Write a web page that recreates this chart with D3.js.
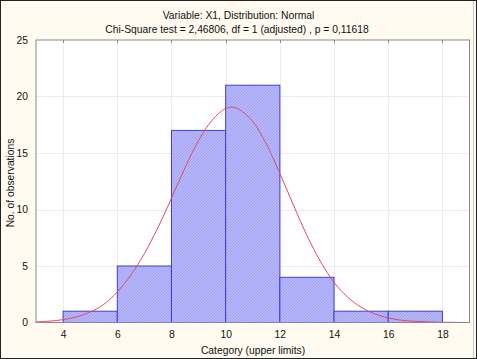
<!DOCTYPE html>
<html><head><meta charset="utf-8">
<script src="https://cdn.jsdelivr.net/npm/d3@7"></script>
<style>body{margin:0;background:#fffbf0;}svg{display:block;font-family:"Liberation Sans",Arial,sans-serif;}</style>
</head><body>
<script>
const binStarts = [4, 6, 8, 10, 12, 14, 16];
const binEnds = [6, 8, 10, 12, 14, 16, 18];
const counts = [1, 5, 17, 21, 4, 1, 1];
const curveX = [3,3.5,4,4.5,5,5.5,6,6.5,7,7.5,8,8.5,9,9.5,10,10.25,10.5,11,11.5,12,12.5,13,13.5,14,14.5,15,15.5,16,16.5,17,17.5,18,18.5,19];
const curveY = [0.05,0.12,0.25,0.5,0.92,1.6,2.7,4.2,6.1,8.4,11.0,13.7,16.1,17.9,18.95,19.05,18.85,17.8,15.8,13.2,10.4,7.7,5.4,3.55,2.25,1.35,0.76,0.4,0.2,0.1,0.05,0.02,0.01,0.0];
const xTicks = [4, 6, 8, 10, 12, 14, 16, 18];
const yTicks = [0, 5, 10, 15, 20, 25];
const title1 = "Variable: X1, Distribution: Normal";
const title2 = "Chi-Square test = 2,46806, df = 1 (adjusted) , p = 0,11618";
const xLabel = "Category (upper limits)";
const yLabel = "No. of observations";

const W = 477, H = 359;
const FS = 10.3;
const svg = d3.select("body").append("svg").attr("width", W).attr("height", H);
svg.append("rect").attr("width", W).attr("height", H).attr("fill", "#fffbf0");

const L = 36, R = 469.5, T = 40, B = 322.5;
const x = d3.scaleLinear().domain([3, 19]).range([L, R]);
const y = d3.scaleLinear().domain([0, 25]).range([B, T]);

const defs = svg.append("defs");
const pat = defs.append("pattern").attr("id", "hatch").attr("patternUnits", "userSpaceOnUse")
  .attr("width", 3).attr("height", 3);
pat.append("rect").attr("width", 3).attr("height", 3).attr("fill", "#b6b6fa");
pat.append("path").attr("d", "M0,3 L3,0").attr("stroke", "#a2a2f2").attr("stroke-width", 1);

svg.append("rect").attr("x", L).attr("y", T).attr("width", R - L).attr("height", B - T).attr("fill", "#ffffff");

// grid
const g = svg.append("g");
g.selectAll(".vg").data(xTicks).join("line")
  .attr("x1", d => Math.round(x(d)) + 0.5).attr("x2", d => Math.round(x(d)) + 0.5)
  .attr("y1", T).attr("y2", B).attr("stroke", "#ececec");
g.selectAll(".hg").data(yTicks.slice(1, -1)).join("line")
  .attr("y1", d => Math.round(y(d)) + 0.5).attr("y2", d => Math.round(y(d)) + 0.5)
  .attr("x1", L).attr("x2", R).attr("stroke", "#ececec");

// bars
svg.selectAll(".bar").data(counts).join("rect")
  .attr("x", (d, i) => x(binStarts[i]))
  .attr("width", (d, i) => x(binEnds[i]) - x(binStarts[i]))
  .attr("y", d => y(d))
  .attr("height", d => y(0) - y(d))
  .attr("fill", "url(#hatch)")
  .attr("stroke", "#3c3cdc").attr("stroke-width", 1);

// curve
const line = d3.line().x(d => x(d[0])).y(d => y(d[1])).curve(d3.curveCatmullRom);
svg.append("path").datum(curveX.map((v, i) => [v, curveY[i]]))
  .attr("d", line).attr("fill", "none").attr("stroke", "#e04a64").attr("stroke-width", 1);

// frame
svg.append("rect").attr("x", L).attr("y", T).attr("width", R - L).attr("height", B - T)
  .attr("fill", "none").attr("stroke", "#8a8a8a").attr("stroke-width", 1);

// top ticks
svg.selectAll(".tt").data(xTicks).join("line")
  .attr("x1", d => Math.round(x(d)) + 0.5).attr("x2", d => Math.round(x(d)) + 0.5)
  .attr("y1", T).attr("y2", T + 3).attr("stroke", "#8a8a8a");

// axes labels
const xAxis = d3.axisBottom(x).tickValues(xTicks).tickSize(0).tickPadding(8);
const xa = svg.append("g").attr("transform", `translate(0,${B})`).call(xAxis);
xa.select(".domain").remove();
xa.selectAll("text").attr("font-size", FS).attr("fill", "#111").attr("font-family", "Liberation Sans, Arial, sans-serif");

const yAxis = d3.axisLeft(y).tickValues(yTicks).tickSize(0).tickPadding(8);
const ya = svg.append("g").attr("transform", `translate(${L},0)`).call(yAxis);
ya.select(".domain").remove();
ya.selectAll("text").attr("font-size", FS).attr("fill", "#111").attr("font-family", "Liberation Sans, Arial, sans-serif").attr("dy", "0.3em");

svg.append("text").attr("x", 238.5).attr("y", 18.5).attr("text-anchor", "middle")
  .attr("font-size", FS).attr("fill", "#111").text(title1);
svg.append("text").attr("x", 237).attr("y", 32.5).attr("text-anchor", "middle")
  .attr("font-size", FS).attr("fill", "#111").text(title2);
svg.append("text").attr("x", 253).attr("y", 354).attr("text-anchor", "middle")
  .attr("font-size", FS).attr("fill", "#111").text(xLabel);
svg.append("text").attr("transform", "translate(14,183) rotate(-90)").attr("text-anchor", "middle")
  .attr("font-size", FS).attr("fill", "#111").text(yLabel);

// outer borders
svg.append("line").attr("x1", 473.5).attr("x2", 473.5).attr("y1", 0).attr("y2", H).attr("stroke", "#c8c8c8");
svg.append("rect").attr("x", 0.5).attr("y", 0.5).attr("width", W - 1).attr("height", H - 1)
  .attr("fill", "none").attr("stroke", "#222");
</script>
</body></html>
